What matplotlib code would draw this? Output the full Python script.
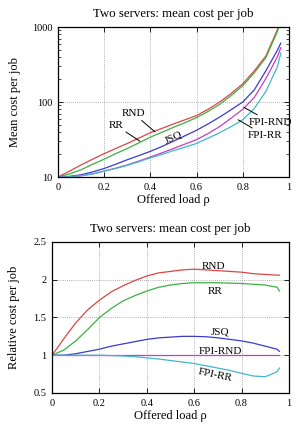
import numpy as np
from matplotlib import pyplot as plt
from matplotlib.ticker import NullFormatter

plt.rcParams['font.family'] = ['Liberation Serif', 'DejaVu Serif']

# offered load grid
rho = [0, 0.05, 0.1, 0.15, 0.2, 0.25, 0.3, 0.35, 0.4, 0.45, 0.5,
       0.55, 0.6, 0.65, 0.7, 0.75, 0.8, 0.85, 0.9, 0.95, 0.965]

# top panel: mean cost per job (log scale)
cost_rnd = [10, 12, 14.5, 17.3, 20.5, 24, 28, 33, 39, 44.5, 51,
            58, 66, 80, 100, 130, 175, 260, 410, 920, 1300]
cost_rr = [10, 11, 12.5, 14.8, 17.3, 20.5, 24, 28.5, 34, 39.5, 46,
           53, 62, 75, 93, 122, 165, 245, 390, 870, 1250]
cost_jsq = [10, 10.2, 10.7, 11.7, 13, 14.8, 17, 19.3, 22, 25.5, 30,
            35.5, 42, 51, 63, 79, 100, 145, 260, 490, 610]
cost_fpirnd = [10, 10.1, 10.4, 11, 12, 13.1, 14.5, 16.3, 18.5, 21, 24,
               27.5, 31.5, 38, 47, 61, 80, 115, 205, 400, 530]
cost_fpirr = [10, 10.1, 10.4, 11, 12, 13, 14.3, 16, 18, 20, 22.5,
              25, 28, 33, 39, 47, 58, 82, 138, 295, 450]

# bottom panel: cost relative to FPI-RND
rho2 = [0, 0.05, 0.1, 0.15, 0.2, 0.25, 0.3, 0.35, 0.4, 0.45, 0.5,
        0.55, 0.6, 0.65, 0.7, 0.75, 0.8, 0.85, 0.9, 0.95, 0.96]
rel_rnd = [1.0, 1.22, 1.43, 1.6, 1.73, 1.84, 1.92, 1.99, 2.05, 2.09, 2.11,
           2.13, 2.14, 2.13, 2.12, 2.11, 2.10, 2.08, 2.07, 2.06, 2.06]
rel_rr = [1.0, 1.07, 1.19, 1.34, 1.50, 1.62, 1.72, 1.79, 1.85, 1.90, 1.93,
          1.95, 1.96, 1.96, 1.96, 1.955, 1.95, 1.94, 1.93, 1.90, 1.85]
rel_jsq = [1.0, 1.0, 1.02, 1.05, 1.08, 1.12, 1.15, 1.18, 1.21, 1.23, 1.24,
           1.25, 1.25, 1.245, 1.23, 1.21, 1.19, 1.16, 1.12, 1.08, 1.05]
rel_fpirnd = [1.0] * 21
rel_fpirr = [1.0, 1.0, 1.0, 1.0, 1.0, 0.995, 0.99, 0.98, 0.965, 0.95, 0.93,
             0.91, 0.89, 0.86, 0.83, 0.80, 0.76, 0.725, 0.715, 0.78, 0.83]

c_red = '#dc4545'
c_green = '#3cb043'
c_blue = '#3b3bcc'
c_mag = '#c43ec4'
c_cyan = '#3fb9c9'

xticks = [0, 0.2, 0.4, 0.6, 0.8, 1]
xticklabels = ['0', '0.2', '0.4', '0.6', '0.8', '1']

fig = plt.figure(figsize=(2.96, 4.26), dpi=100)
ax1 = fig.add_axes([0.196, 0.5845, 0.78, 0.352])
ax2 = fig.add_axes([0.176, 0.0775, 0.80, 0.3545])

lw = 0.9
ax1.plot(rho, cost_rnd, color=c_red, lw=lw)
ax1.plot(rho, cost_rr, color=c_green, lw=lw)
ax1.plot(rho, cost_jsq, color=c_blue, lw=lw)
ax1.plot(rho, cost_fpirnd, color=c_mag, lw=lw)
ax1.plot(rho, cost_fpirr, color=c_cyan, lw=lw)
ax1.set_yscale('log')
ax1.set_xlim(0, 1)
ax1.set_ylim(10, 1000)
ax1.set_yticks([10, 100, 1000])
ax1.set_yticklabels(['10', '100', '1000'])
ax1.yaxis.set_minor_formatter(NullFormatter())

ax2.plot(rho2, rel_rnd, color=c_red, lw=lw)
ax2.plot(rho2, rel_rr, color=c_green, lw=lw)
ax2.plot(rho2, rel_jsq, color=c_blue, lw=lw)
ax2.plot(rho2, rel_fpirnd, color=c_mag, lw=lw)
ax2.plot(rho2, rel_fpirr, color=c_cyan, lw=lw)
ax2.set_xlim(0, 1)
ax2.set_ylim(0.5, 2.5)
ax2.set_yticks([0.5, 1, 1.5, 2, 2.5])
ax2.set_yticklabels(['0.5', '1', '1.5', '2', '2.5'])

for ax in (ax1, ax2):
    ax.set_xticks(xticks)
    ax.set_xticklabels(xticklabels)
    ax.tick_params(which='both', direction='in', top=True, right=True,
                   labelsize=7.5, pad=4)
    ax.tick_params(which='major', length=3.5, width=0.6)
    ax.tick_params(which='minor', length=2, width=0.5)
    ax.grid(True, which='major', linestyle=(0, (1, 1.5)), color='#999999', lw=0.6)
    for s in ax.spines.values():
        s.set_linewidth(0.9)
    ax.set_title('Two servers: mean cost per job', fontsize=9.3, pad=7)
    ax.set_xlabel('Offered load ρ', fontsize=9, labelpad=2)

ax1.set_ylabel('Mean cost per job', fontsize=9, labelpad=8)
ax2.set_ylabel('Relative cost per job', fontsize=9, labelpad=10)

arr = dict(arrowstyle='-', color='black', lw=0.7, shrinkA=0, shrinkB=0)
fs = 8
ax1.annotate('RND', xy=(0.42, 40), xytext=(0.325, 71), fontsize=fs,
             ha='center', va='center', arrowprops=arr)
ax1.annotate('RR', xy=(0.355, 30), xytext=(0.25, 49), fontsize=fs,
             ha='center', va='center', arrowprops=arr)
ax1.text(0.50, 34, 'JSQ', fontsize=fs, ha='center', va='center', rotation=25)
ax1.annotate('FPI-RND', xy=(0.805, 85), xytext=(0.825, 54), fontsize=fs,
             ha='left', va='center', arrowprops=arr)
ax1.annotate('FPI-RR', xy=(0.78, 58), xytext=(0.82, 36), fontsize=fs,
             ha='left', va='center', arrowprops=arr)

ax2.text(0.68, 2.18, 'RND', fontsize=fs, ha='center', va='center')
ax2.text(0.69, 1.85, 'RR', fontsize=fs, ha='center', va='center')
ax2.text(0.71, 1.31, 'JSQ', fontsize=fs, ha='center', va='center')
ax2.text(0.71, 1.05, 'FPI-RND', fontsize=fs, ha='center', va='center')
ax2.text(0.69, 0.73, 'FPI-RR', fontsize=fs, ha='center', va='center', rotation=-12)

fig.savefig('out.png', dpi=100)
